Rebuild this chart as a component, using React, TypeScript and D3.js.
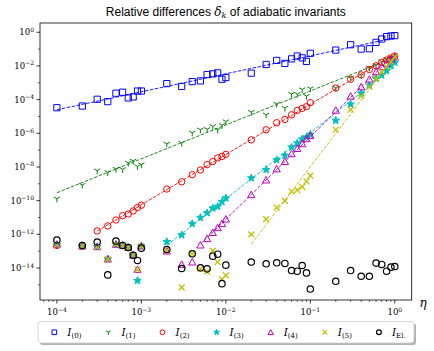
import React from 'react';
import * as d3 from 'd3';

// eta grid of the runs
const ETA = [
  1e-4, 2e-4, 3e-4, 4e-4, 5e-4, 6e-4, 7e-4, 8e-4, 9e-4,
  1e-3, 2e-3, 3e-3, 4e-3, 5e-3, 6e-3, 7e-3, 8e-3, 9e-3,
  1e-2, 2e-2, 3e-2, 4e-2, 5e-2, 6e-2, 7e-2, 8e-2, 9e-2,
  1e-1, 2e-1, 3e-1, 4e-1, 5e-1, 6e-1, 7e-1, 8e-1, 9e-1, 1,
];

// log10 of delta_k
const LOG_I0 = [
  -4.48, -4.38, -3.98, -4.12, -3.62, -3.56, -3.90, -3.84, -3.49,
  -3.49, -3.05, -3.22, -2.93, -2.89, -2.51, -2.47, -2.41, -2.79,
  -2.69, -2.43, -1.91, -1.67, -1.85, -1.58, -1.41, -1.52, -1.73,
  -1.25, -1.06, -0.74, -1.00, -0.98, -0.60, -0.40, -0.26, -0.22, -0.20,
];
const LOG_I1 = [
  -9.89, -9.07, -8.22, -8.32, -8.12, -8.14, -7.76, -7.64, -7.96,
  -7.86, -6.63, -6.57, -5.97, -5.79, -5.76, -5.58, -5.79, -5.52,
  -5.30, -4.74, -4.90, -4.26, -4.50, -3.67, -3.67, -3.40, -3.79,
  -3.34, -3.30, -2.71, -2.55, -2.11, -1.95, -1.75, -1.60, -1.50, -1.40,
];
const LOG_I2 = [
  -12.66, -12.70, -11.80, -11.50, -11.15, -10.89, -10.79, -10.61, -10.41,
  -10.27, -9.31, -8.88, -8.46, -8.18, -7.86, -7.68, -7.46, -7.37,
  -7.25, -6.39, -5.79, -5.37, -5.18, -4.90, -4.64, -4.52, -4.42,
  -4.18, -3.31, -2.79, -2.53, -2.21, -1.99, -1.79, -1.65, -1.52, -1.41,
];
const LOG_I3 = [
  -12.62, -12.68, -12.74, -13.47, -12.60, -12.66, -12.78, -13.24, -14.75,
  -12.70, -12.44, -12.04, -11.37, -11.01, -10.73, -10.45, -10.35, -10.07,
  -9.85, -8.66, -8.16, -7.58, -7.31, -6.83, -6.59, -6.35, -6.23,
  -6.07, -5.24, -4.28, -3.62, -3.15, -2.75, -2.55, -2.29, -1.99, -1.79,
];
const LOG_I4 = [
  -12.60, -12.70, -12.74, -13.47, -12.60, -12.66, -12.78, -13.24, -14.09,
  -12.70, -13.00, -13.79, -13.65, -12.64, -12.26, -11.90, -11.61, -11.37,
  -11.10, -9.65, -8.78, -8.12, -7.68, -7.22, -6.91, -6.63, -6.33,
  -6.13, -4.64, -3.80, -3.25, -2.79, -2.35, -2.05, -1.85, -1.61, -1.46,
];
const LOG_I5 = [
  -12.62, -12.68, -12.74, -13.47, -12.60, -12.66, -12.78, -13.24, -14.09,
  -12.70, -12.96, -15.15, -13.16, -14.05, -14.22, -12.98, -13.64, -14.67,
  -14.44, -12.00, -11.10, -10.41, -10.01, -9.46, -9.37, -9.18, -8.86,
  -8.52, -5.79, -4.60, -3.80, -3.25, -2.75, -2.35, -2.05, -1.76, -1.46,
];
const LOG_IEL = [
  -12.34, -12.66, -12.46, -14.41, -12.40, -12.66, -12.78, -13.24, -13.55,
  -12.82, -12.90, -14.03, -13.16, -13.99, -14.05, -13.30, -13.18, -14.93,
  -13.83, -13.65, -13.75, -13.69, -13.73, -14.15, -14.19, -13.85, -14.29,
  -15.25, -14.79, -14.15, -14.49, -14.49, -13.71, -13.79, -14.19, -13.95, -13.91,
];

const SERIES = [LOG_I0, LOG_I1, LOG_I2, LOG_I3, LOG_I4, LOG_I5, LOG_IEL];
const LABELS = ['(0)', '(1)', '(2)', '(3)', '(4)', '(5)', 'El.'];
// first index of the power-law fit, -1 = no fit
const FIT_FROM = [0, 0, 2, 10, 13, 19, -1];

const X_TICKS = [-4, -3, -2, -1, 0];
const Y_TICKS = [0, -2, -4, -6, -8, -10, -12, -14];

const W = 434, H = 351;
const COLORS = ['#0000ff', '#008000', '#ff0000', '#00bfbf', '#bf00bf', '#bfbf00', '#000000'];
const SERIF = '"DejaVu Serif", "Liberation Serif", serif';

function markerPath(kind: number, r: number) {
  switch (kind) {
    case 0: return `M${-r},${-r}h${2 * r}v${2 * r}h${-2 * r}z`;
    case 1: return `M0,0L0,${r}M0,0L${-0.87 * r},${-0.5 * r}M0,0L${0.87 * r},${-0.5 * r}`;
    case 3: {
      let p = '';
      for (let i = 0; i < 10; i++) {
        const a = -Math.PI / 2 + (i * Math.PI) / 5;
        const rr = i % 2 ? r * 0.42 : r;
        p += (i ? 'L' : 'M') + (rr * Math.cos(a)).toFixed(2) + ',' + (rr * Math.sin(a)).toFixed(2);
      }
      return p + 'Z';
    }
    case 4: return `M0,${-r}L${r},${r * 0.8}L${-r},${r * 0.8}Z`;
    case 5: return `M${-r},${-r}L${r},${r}M${-r},${r}L${r},${-r}`;
    default: return '';
  }
}

function Marker({ kind, x, y, color, scale = 1 }: any) {
  if (kind === 2 || kind === 6) {
    return <circle cx={x} cy={y} r={3.2 * scale} fill="none" stroke={color} strokeWidth={kind === 6 ? 1.2 : 1} />;
  }
  const r = [3.1, 3.6, 0, 4, 3.6, 2.9][kind] * scale;
  const filled = kind === 3;
  return (
    <path
      d={markerPath(kind, r)}
      transform={`translate(${x},${y})`}
      fill={filled ? color : 'none'}
      stroke={color}
      strokeWidth={kind === 5 ? 1.3 : 1}
      strokeLinejoin="miter"
    />
  );
}

function Pow10({ x, y, e, anchor }: any) {
  return (
    <text x={x} y={y} textAnchor={anchor} fontFamily={SERIF} fontSize={8.5} fill="#000">
      10<tspan dy={-3.5} fontSize={6}>{e < 0 ? '\u2212' + -e : String(e)}</tspan>
    </text>
  );
}

export default function App() {
  const left = 40, right = 411.7, top = 23, bottom = 300;
  const x = d3.scaleLog().domain([Math.pow(10, -4.2), Math.pow(10, 0.2)]).range([left, right]);
  const y = d3.scaleLog().domain([Math.pow(10, -15.9), Math.pow(10, 0.55)]).range([bottom, top]);

  const minorX: number[] = [];
  for (let d = -5; d <= 0; d++) for (let m = 2; m <= 9; m++) {
    const v = m * Math.pow(10, d);
    if (v > x.domain()[0] && v < x.domain()[1]) minorX.push(v);
  }
  const minorY: number[] = [];
  for (let d = -15; d <= 0; d += 2) minorY.push(Math.pow(10, d));

  const line = d3.line<[number, number]>().x(d => x(d[0])).y(d => y(d[1]));

  const fits = SERIES.map((s, k) => {
    const from = FIT_FROM[k];
    if (from < 0) return null;
    const xs = ETA.slice(from).map(Math.log10);
    const ys = s.slice(from);
    const mx = d3.mean(xs)!, my = d3.mean(ys)!;
    const b = d3.sum(xs, (v, i) => (v - mx) * (ys[i] - my)) / d3.sum(xs, v => (v - mx) ** 2);
    const a = my - b * mx;
    const x0 = ETA[from], x1 = ETA[ETA.length - 1];
    return line([
      [x0, Math.pow(10, a + b * Math.log10(x0))],
      [x1, Math.pow(10, a + b * Math.log10(x1))],
    ]);
  });

  const legX0 = 54.3, legStep = 54.1, legY = 332.3;

  return (
    <svg width={W} height={H} style={{ position: 'absolute', left: 0, top: 0, background: '#fff' }}>
      <text x={(left + right) / 2} y={15.5} textAnchor="middle" fontFamily='"Liberation Sans", sans-serif' fontSize={12} fill="#000">
        Relative differences <tspan fontFamily={SERIF} fontStyle="italic">δ</tspan>
        <tspan fontSize={8} dy={2.5} fontFamily={SERIF} fontStyle="italic">k</tspan>
        <tspan dy={-2.5}> of adiabatic invariants</tspan>
      </text>

      <defs>
        <clipPath id="plot">
          <rect x={left} y={top} width={right - left} height={bottom - top} />
        </clipPath>
      </defs>

      <g clipPath="url(#plot)">
        {SERIES.map((s, k) => (
          <g key={k}>
            {s.map((v, i) => (
              <Marker key={i} kind={k} x={x(ETA[i])} y={y(Math.pow(10, v))} color={COLORS[k]} />
            ))}
            {fits[k] && <path d={fits[k]!} fill="none" stroke={COLORS[k]} strokeWidth={0.9} strokeDasharray="3.5,1.5" />}
          </g>
        ))}
      </g>

      <rect x={left} y={top} width={right - left} height={bottom - top} fill="none" stroke="#000" strokeWidth={0.8} />

      {X_TICKS.map(e => (
        <g key={e}>
          <line x1={x(Math.pow(10, e))} x2={x(Math.pow(10, e))} y1={bottom} y2={bottom + 3.5} stroke="#000" strokeWidth={0.8} />
          <Pow10 x={x(Math.pow(10, e))} y={315} e={e} anchor="middle" />
        </g>
      ))}
      {minorX.map((v, i) => (
        <line key={i} x1={x(v)} x2={x(v)} y1={bottom} y2={bottom + 2} stroke="#000" strokeWidth={0.6} />
      ))}
      {Y_TICKS.map(e => (
        <g key={e}>
          <line x1={left - 3.5} x2={left} y1={y(Math.pow(10, e))} y2={y(Math.pow(10, e))} stroke="#000" strokeWidth={0.8} />
          <Pow10 x={34} y={y(Math.pow(10, e)) + 3} e={e} anchor="end" />
        </g>
      ))}
      {minorY.map((v, i) => (
        <line key={i} x1={left - 2} x2={left} y1={y(v)} y2={y(v)} stroke="#000" strokeWidth={0.6} />
      ))}

      <text x={423} y={307} textAnchor="middle" fontFamily={SERIF} fontStyle="italic" fontSize={12}>η</text>

      <rect x={40} y={323.5} width={376} height={21.5} rx={3} fill="#000" opacity={0.3} />
      <rect x={38} y={321.5} width={376} height={21.5} rx={3} fill="#fff" stroke="#cccccc" strokeWidth={0.8} />
      {LABELS.map((lab, k) => {
        const mx = legX0 + k * legStep;
        return (
          <g key={k}>
            <Marker kind={k} x={mx} y={legY} color={COLORS[k]} scale={0.75} />
            <text x={mx + 13} y={legY + 3.5} fontFamily={SERIF} fontSize={10.5}>
              <tspan fontStyle="italic">I</tspan>
              <tspan fontSize={7} dy={2.5}>{lab}</tspan>
            </text>
          </g>
        );
      })}
    </svg>
  );
}
